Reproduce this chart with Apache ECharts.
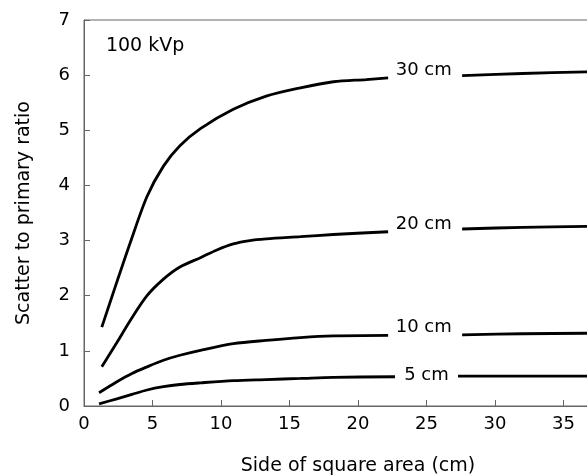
<!DOCTYPE html>
<html>
<head>
<meta charset="utf-8">
<script src="https://cdn.jsdelivr.net/npm/echarts@6/dist/echarts.min.js"></script>
<style>
html,body{margin:0;padding:0;background:#fff;}
#chart{width:587px;height:476px;}
</style>
</head>
<body>
<div id="chart"></div>
<script>
// ---- data ----
const curveNames = ['30 cm', '20 cm', '10 cm', '5 cm'];

const x30L = [1.3, 2.4, 3.4, 4.6, 5.8, 7.0, 8.5, 10.9, 13.3, 15.8, 18.2, 20.6, 22.2];
const y30L = [1.43, 2.25, 2.98, 3.8, 4.35, 4.72, 5.03, 5.38, 5.62, 5.77, 5.88, 5.92, 5.95];
const x30R = [27.6, 32.0, 37.0];
const y30R = [5.99, 6.03, 6.06];

const x20L = [1.3, 2.4, 3.4, 4.6, 5.8, 7.0, 8.5, 9.7, 10.9, 12.1, 13.3, 15.8, 18.2, 22.2];
const y20L = [0.71, 1.15, 1.56, 2.0, 2.3, 2.52, 2.69, 2.83, 2.94, 3.0, 3.03, 3.07, 3.11, 3.16];
const x20R = [27.6, 32.0, 37.0];
const y20R = [3.21, 3.24, 3.26];

const x10L = [1.1, 2.4, 3.5, 4.6, 5.8, 7.0, 8.5, 10.9, 13.3, 15.8, 18.2, 22.2];
const y10L = [0.24, 0.44, 0.59, 0.71, 0.83, 0.92, 1.01, 1.13, 1.19, 1.24, 1.27, 1.28];
const x10R = [27.6, 32.0, 37.0];
const y10R = [1.29, 1.31, 1.32];

const x5L = [1.1, 2.4, 3.5, 4.6, 5.8, 7.0, 8.5, 10.9, 13.3, 15.8, 18.2, 22.7];
const y5L = [0.04, 0.13, 0.21, 0.29, 0.35, 0.39, 0.42, 0.46, 0.48, 0.50, 0.52, 0.53];
const x5R = [27.3, 32.0, 37.0];
const y5R = [0.54, 0.54, 0.54];

const labelX = [24.8, 24.8, 24.8, 25.0];
const labelY = [6.09, 3.29, 1.42, 0.56];

const noteText = '100 kVp';
const noteX = 1.6;
const noteY = 6.53;

const xTicks = [0, 5, 10, 15, 20, 25, 30, 35];
const yTicks = [0, 1, 2, 3, 4, 5, 6, 7];

const xTitle = 'Side of square area (cm)';
const yTitle = 'Scatter to primary ratio';

// ---- build ----
const FONT = 'DejaVu Sans';
function seg(xl, yl, xr, yr) {
  const d = xl.map((x, i) => [x, yl[i]]);
  d.push([(xl[xl.length - 1] + xr[0]) / 2, '-']);
  xr.forEach((x, i) => d.push([x, yr[i]]));
  return d;
}
const curves = [
  seg(x30L, y30L, x30R, y30R),
  seg(x20L, y20L, x20R, y20R),
  seg(x10L, y10L, x10R, y10R),
  seg(x5L, y5L, x5R, y5R)
];

const series = curves.map((d, i) => ({
  type: 'line',
  name: curveNames[i],
  data: d,
  smooth: 0.3,
  connectNulls: false,
  showSymbol: false,
  symbol: 'none',
  lineStyle: { color: '#000', width: 2.8 },
  clip: true,
  silent: true,
  z: 3
}));

const labelStyle = {
  show: true,
  position: 'inside',
  formatter: p => p.name,
  color: '#000',
  opacity: 1,
  textBorderWidth: 0,
  fontFamily: FONT
};

series.push({
  type: 'scatter',
  symbolSize: 0,
  itemStyle: { color: '#000', opacity: 1 },
  data: curveNames.map((n, i) => ({ value: [labelX[i], labelY[i]], name: n })),
  label: Object.assign({}, labelStyle, { fontSize: 18 }),
  silent: true,
  z: 4
});

series.push({
  type: 'scatter',
  symbolSize: 0,
  itemStyle: { color: '#000', opacity: 1 },
  data: [{ value: [noteX, noteY], name: noteText }],
  label: Object.assign({}, labelStyle, { fontSize: 19, align: 'left' }),
  silent: true,
  z: 4
});

const chart = echarts.init(document.getElementById('chart'), null, { renderer: 'canvas' });
chart.setOption({
  animation: false,
  backgroundColor: '#fff',
  grid: {
    left: 84, top: 20, bottom: 70, right: -45,
    show: true, borderColor: '#666', borderWidth: 1,
    containLabel: false, outerBoundsMode: 'none'
  },
  xAxis: {
    type: 'value',
    min: 0, max: 40, interval: 5,
    name: xTitle,
    nameLocation: 'middle',
    nameGap: 51,
    nameTextStyle: { color: '#000', fontFamily: FONT, fontSize: 19 },
    axisLine: { show: true, lineStyle: { color: '#666', width: 1 } },
    axisTick: { show: true, inside: true, length: 6, lineStyle: { color: '#666' } },
    axisLabel: {
      color: '#000', fontFamily: FONT, fontSize: 18, margin: 9,
      formatter: v => (xTicks.indexOf(v) >= 0 ? String(v) : '')
    },
    splitLine: { show: false }
  },
  yAxis: {
    type: 'value',
    min: 0, max: 7, interval: 1,
    name: yTitle,
    nameLocation: 'middle',
    nameGap: 50,
    nameTextStyle: { color: '#000', fontFamily: FONT, fontSize: 19 },
    axisLine: { show: true, lineStyle: { color: '#666', width: 1 } },
    axisTick: { show: true, inside: true, length: 6, lineStyle: { color: '#666' } },
    axisLabel: {
      color: '#000', fontFamily: FONT, fontSize: 18, margin: 14,
      formatter: v => (yTicks.indexOf(v) >= 0 ? String(v) : '')
    },
    splitLine: { show: false }
  },
  series: series
});
</script>
</body>
</html>
